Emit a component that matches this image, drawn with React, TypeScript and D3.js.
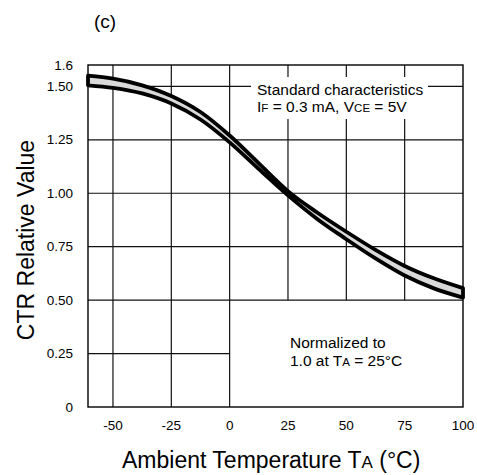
import React from "react";
import * as d3 from "d3";

const temps = [-60.7, -50, -37.5, -25, -12.5, 0, 12.5, 25, 37.5, 50, 62.5, 75, 87.5, 100];
const upper = [1.55, 1.536, 1.505, 1.455, 1.38, 1.27, 1.14, 1.01, 0.91, 0.82, 0.735, 0.66, 0.602, 0.556];
const lower = [1.505, 1.493, 1.467, 1.42, 1.345, 1.238, 1.113, 0.99, 0.88, 0.785, 0.695, 0.615, 0.555, 0.512];

const xTicks = [-50, -25, 0, 25, 50, 75, 100];
const yTicks = [0, 0.25, 0.5, 0.75, 1.0, 1.25, 1.5, 1.6];
const yTickLabels = ["0", "0.25", "0.50", "0.75", "1.00", "1.25", "1.50", "1.6"];
const vFull = [-50, -25, 0];
const vUpper = [25, 50, 75];
const hFull = [0.5, 0.75, 1.0, 1.25, 1.5];

export default function App() {
  const W = 477, H = 475;
  const L = 88, R = 463, T = 65, B = 407;
  const x = d3.scaleLinear().domain([-60.7, 100]).range([L, R]);
  const y = d3.scaleLinear().domain([0, 1.6]).range([B, T]);
  const pts = temps.map((t, i) => ({ t, u: upper[i], l: lower[i] }));
  const area = d3
    .area<{ t: number; u: number; l: number }>()
    .x((d) => x(d.t))
    .y0((d) => y(d.l))
    .y1((d) => y(d.u))
    .curve(d3.curveMonotoneX);
  const font = "Liberation Sans, Arial, sans-serif";
  const gc = "#111";
  return (
    <svg width={W} height={H} style={{ position: "absolute", left: 0, top: 0, background: "#fff" }} fontFamily={font}>
      <rect x={0} y={0} width={W} height={H} fill="#fff" />
      {vFull.map((v) => (
        <line key={"vf" + v} x1={x(v)} x2={x(v)} y1={y(0)} y2={y(1.6)} stroke={gc} strokeWidth={1.2} />
      ))}
      {vUpper.map((v) => (
        <line key={"vu" + v} x1={x(v)} x2={x(v)} y1={y(0.5)} y2={y(1.6)} stroke={gc} strokeWidth={1.2} />
      ))}
      {hFull.map((v) => (
        <line key={"h" + v} x1={L} x2={R} y1={y(v)} y2={y(v)} stroke={gc} strokeWidth={1.2} />
      ))}
      <line x1={L} x2={x(0)} y1={y(0.25)} y2={y(0.25)} stroke={gc} strokeWidth={1.2} />
      <rect x={251} y={77} width={177} height={42} fill="#fff" />
      <text x={257} y={95} fontSize={15.5} fill="#000">Standard characteristics</text>
      <text x={257} y={112} fontSize={15.5} fill="#000">
        I<tspan fontSize={11.5}>F</tspan> = 0.3 mA, V<tspan fontSize={11.5}>CE</tspan> = 5V
      </text>
      <path d={area(pts) || ""} fill="#d9d9d9" stroke="#000" strokeWidth={3.8} strokeLinejoin="round" />
      <rect x={L} y={T} width={R - L} height={B - T} fill="none" stroke="#000" strokeWidth={1.4} />
      <text x={290} y={348} fontSize={15.5} fill="#000">Normalized to</text>
      <text x={290} y={366} fontSize={15.5} fill="#000">
        1.0 at T<tspan fontSize={11.5}>A</tspan> = 25°C
      </text>
      {yTicks.map((v, i) => (
        <text key={"yt" + v} x={73} y={y(v) + 4.5} fontSize={13.5} textAnchor="end" fill="#000">
          {yTickLabels[i]}
        </text>
      ))}
      {xTicks.map((v) => (
        <text key={"xt" + v} x={x(v)} y={430} fontSize={13.5} textAnchor="middle" fill="#000">
          {v}
        </text>
      ))}
      <text x={105} y={28} fontSize={19} textAnchor="middle" fill="#000">(c)</text>
      <text x={122} y={468} fontSize={23} fill="#000">
        Ambient Temperature T<tspan fontSize={17}>A</tspan> (°C)
      </text>
      <text transform={`translate(34,240) rotate(-90)`} fontSize={23} textAnchor="middle" fill="#000">
        CTR Relative Value
      </text>
    </svg>
  );
}
